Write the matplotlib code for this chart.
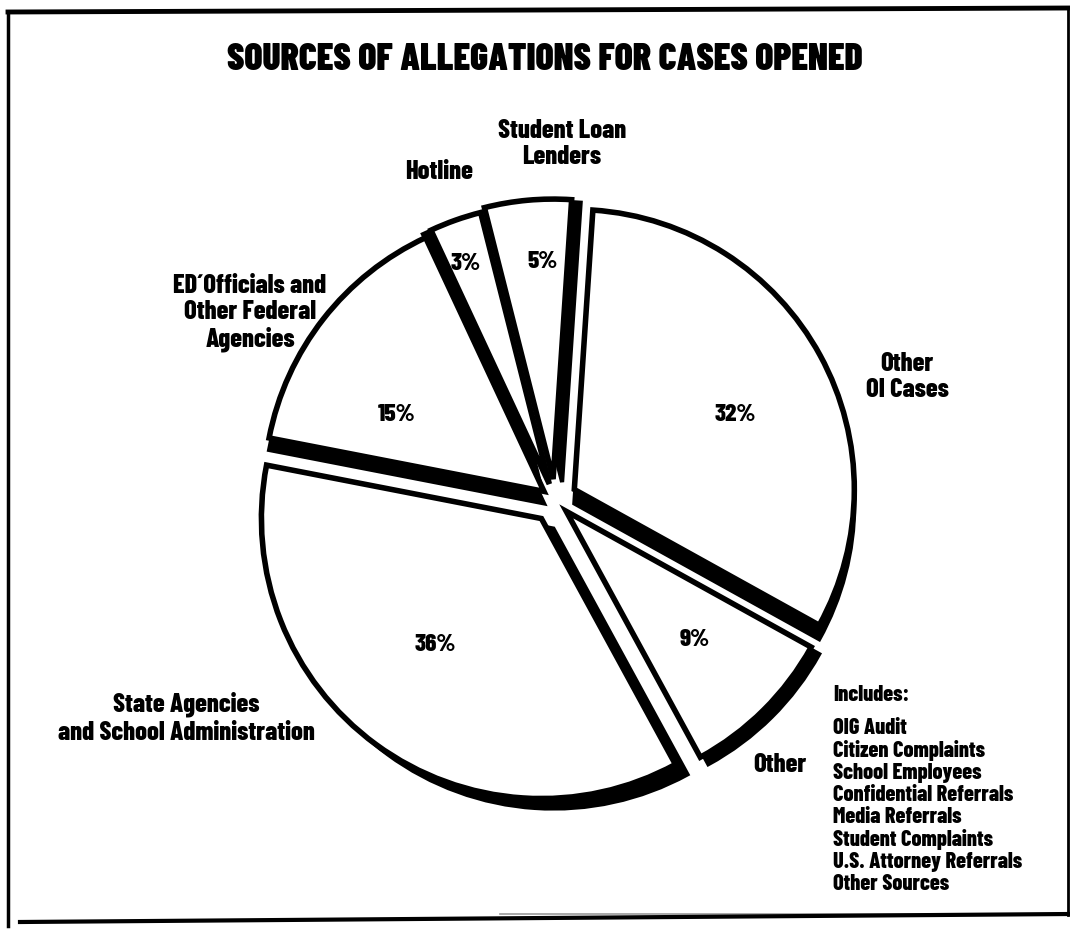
import matplotlib
matplotlib.use("Agg")
import matplotlib.pyplot as plt
from matplotlib.patches import Wedge

plt.rcParams['font.family'] = ['Barlow Condensed', 'DejaVu Sans']
plt.rcParams['font.weight'] = 'heavy'

# data
labels = ['Other OI Cases', 'Student Loan Lenders', 'Hotline',
          'ED Officials and Other Federal Agencies',
          'State Agencies and School Administration', 'Other']
shares = [32, 5, 3, 15, 36, 9]
includes = ['OIG Audit', 'Citizen Complaints', 'School Employees',
            'Confidential Referrals', 'Media Referrals', 'Student Complaints',
            'U.S. Attorney Referrals', 'Other Sources']

# style per slice (pixels)
explode = [22, 21, 17, 14, 23, 16]
shadow = [(0, -14), (9, -3), (-8, -4), (0, -12), (12, -10), (8, -7)]

W, H = 1070, 930
def iy(y):
    return H - y

fig = plt.figure(figsize=(10.7, 9.3), dpi=100)
ax = fig.add_axes([0, 0, 1, 1])

wedges, _ = ax.pie(shares, explode=explode, startangle=-29, counterclock=True,
                   center=(555, iy(500)), radius=280, frame=True,
                   wedgeprops=dict(facecolor='white', edgecolor='black', linewidth=4))
ax.set_xlim(0, W)
ax.set_ylim(0, H)
ax.set_aspect('equal')
ax.axis('off')

for w, (dx, dy) in zip(wedges, shadow):
    w.set_zorder(3)
    cx, cy = w.center
    s = Wedge((cx + dx, cy + dy), w.r, w.theta1, w.theta2,
              facecolor='black', edgecolor='black', linewidth=3, zorder=2)
    ax.add_patch(s)

# percent labels
pct_pos = [(735, 415), (543, 262), (466, 264), (397, 415), (435, 645), (695, 640)]
for v, (x, y) in zip(shares, pct_pos):
    ax.text(x, iy(y), f'{v}%', ha='center', va='center', fontsize=18, zorder=5)

# slice names
ax.text(562, iy(144), 'Student Loan\nLenders', ha='center', va='center',
        fontsize=19, linespacing=1.15)
ax.text(439, iy(172), 'Hotline', ha='center', va='center', fontsize=19)
ax.text(250, iy(313), 'ED\u00b4Officials and\nOther Federal\nAgencies', ha='center',
        va='center', fontsize=19, linespacing=1.1)
ax.text(907, iy(377), 'Other\nOI Cases', ha='center', va='center', fontsize=19,
        linespacing=1.15)
ax.text(186, iy(718), 'State Agencies\nand School Administration', ha='center',
        va='center', fontsize=19, linespacing=1.2)
ax.text(780, iy(765), 'Other', ha='center', va='center', fontsize=19)

ax.text(833, iy(695), 'Includes:', ha='left', va='center', fontsize=16)
for i, t in enumerate(includes):
    ax.text(833, iy(728 + i * 22.3), t, ha='left', va='center', fontsize=16)

# title
ax.text(545, iy(60), 'SOURCES OF ALLEGATIONS FOR CASES OPENED', ha='center',
        va='center', fontsize=27, fontweight='black')

# frame
ax.plot([8, 1070], [iy(12), iy(8)], color='black', lw=3.5)
ax.plot([8, 8], [iy(12), iy(926)], color='black', lw=2.5)
ax.plot([1068, 1068], [iy(8), iy(915)], color='black', lw=2)
ax.plot([500, 1070], [iy(914), iy(914)], color='0.6', lw=1.2)
ax.plot([20, 1070], [iy(922), iy(914)], color='black', lw=3)

fig.savefig('out.png', dpi=100, facecolor='white')
